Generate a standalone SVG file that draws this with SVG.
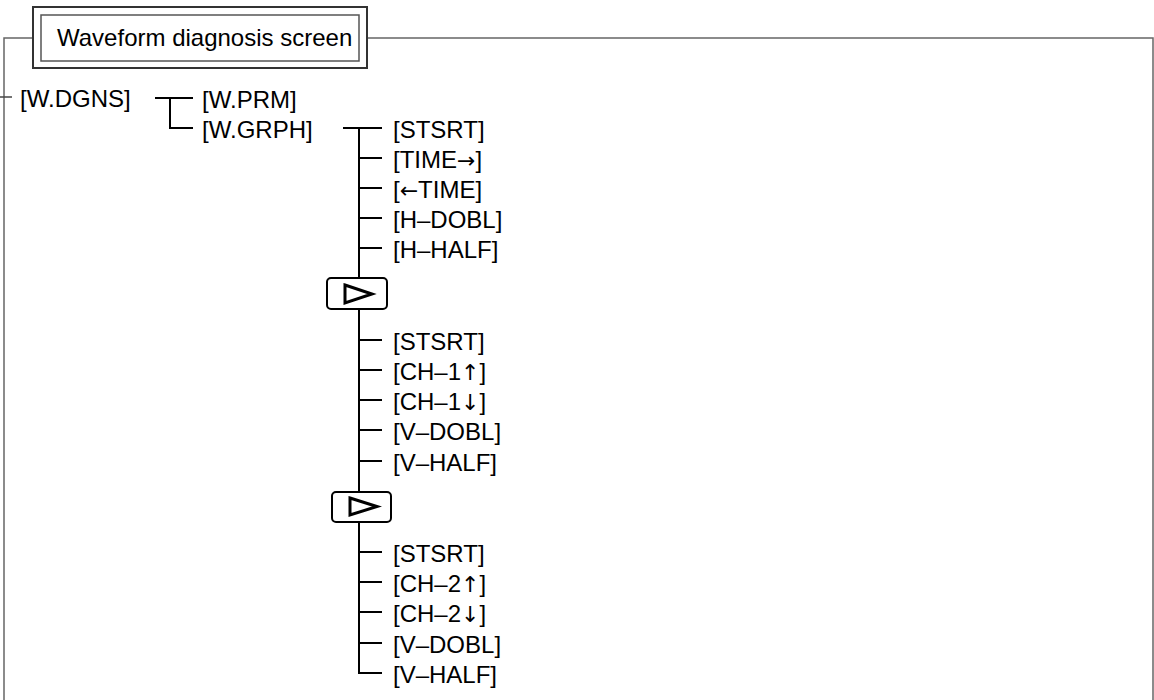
<svg xmlns="http://www.w3.org/2000/svg" width="1154" height="700" viewBox="0 0 1154 700">
<style>
text{font-family:"Liberation Sans",Arial,sans-serif;font-size:24px;fill:#000}
.ar{font-family:"DejaVu Sans",sans-serif;font-size:22px;fill:#000}
.frame{fill:none;stroke:#666;stroke-width:1.5}
.c{fill:none;stroke:#000;stroke-width:2}
.nb{fill:#fff;stroke:#000;stroke-width:2}
.tri{fill:none;stroke:#000;stroke-width:3;stroke-linejoin:miter}
</style>
<rect width="1154" height="700" fill="#fff"/>
<g id="frame">
<polyline class="frame" points="4,700 4,38 33,38"/>
<polyline class="frame" points="367,38 1153,38 1153,700"/>
</g>
<g id="title">
<rect x="33" y="7" width="334" height="61" fill="#fff" stroke="#333" stroke-width="2"/>
<rect x="41" y="15" width="318" height="46" fill="none" stroke="#555" stroke-width="1.5"/>
<text x="57" y="46">Waveform diagnosis screen</text>
</g>
<g id="connectors">
<line class="c" x1="0" y1="97" x2="12" y2="97" style="stroke:#444;stroke-width:1.5"/>
<line class="c" x1="155" y1="98" x2="193" y2="98"/>
<polyline class="c" points="170,98 170,128 193,128"/>
<line class="c" x1="343" y1="128" x2="382" y2="128"/>
<polyline class="c" points="359,128 359,673 382,673"/>
<line class="c" x1="359" y1="158" x2="382" y2="158"/>
<line class="c" x1="359" y1="188" x2="382" y2="188"/>
<line class="c" x1="359" y1="218" x2="382" y2="218"/>
<line class="c" x1="359" y1="248" x2="382" y2="248"/>
<line class="c" x1="359" y1="340" x2="382" y2="340"/>
<line class="c" x1="359" y1="370" x2="382" y2="370"/>
<line class="c" x1="359" y1="400" x2="382" y2="400"/>
<line class="c" x1="359" y1="430" x2="382" y2="430"/>
<line class="c" x1="359" y1="461" x2="382" y2="461"/>
<line class="c" x1="359" y1="552" x2="382" y2="552"/>
<line class="c" x1="359" y1="582" x2="382" y2="582"/>
<line class="c" x1="359" y1="612" x2="382" y2="612"/>
<line class="c" x1="359" y1="643" x2="382" y2="643"/>
</g>
<g id="n-wdgns"><text x="20" y="107">[W.DGNS]</text></g>
<g id="n-wprm"><text x="202" y="108">[W.PRM]</text></g>
<g id="n-wgrph"><text x="202" y="138">[W.GRPH]</text></g>
<g id="n-g1">
<text x="393" y="138">[STSRT]</text>
<text x="393" y="168">[TIME<tspan class="ar">→</tspan>]</text>
<text x="393" y="198">[<tspan class="ar">←</tspan>TIME]</text>
<text x="393" y="228">[H–DOBL]</text>
<text x="393" y="258">[H–HALF]</text>
</g>
<g id="n-next1">
<rect class="nb" x="327" y="278" width="60" height="31" rx="4"/>
<polygon class="tri" points="345,285 372,294 345,303"/>
</g>
<g id="n-g2">
<text x="393" y="350">[STSRT]</text>
<text x="393" y="380">[CH–1<tspan class="ar">↑</tspan>]</text>
<text x="393" y="410">[CH–1<tspan class="ar">↓</tspan>]</text>
<text x="393" y="440">[V–DOBL]</text>
<text x="393" y="471">[V–HALF]</text>
</g>
<g id="n-next2">
<rect class="nb" x="332" y="492" width="59" height="30" rx="4"/>
<polygon class="tri" points="350,498 377,506.5 350,515"/>
</g>
<g id="n-g3">
<text x="393" y="562">[STSRT]</text>
<text x="393" y="592">[CH–2<tspan class="ar">↑</tspan>]</text>
<text x="393" y="622">[CH–2<tspan class="ar">↓</tspan>]</text>
<text x="393" y="653">[V–DOBL]</text>
<text x="393" y="683">[V–HALF]</text>
</g>
</svg>
